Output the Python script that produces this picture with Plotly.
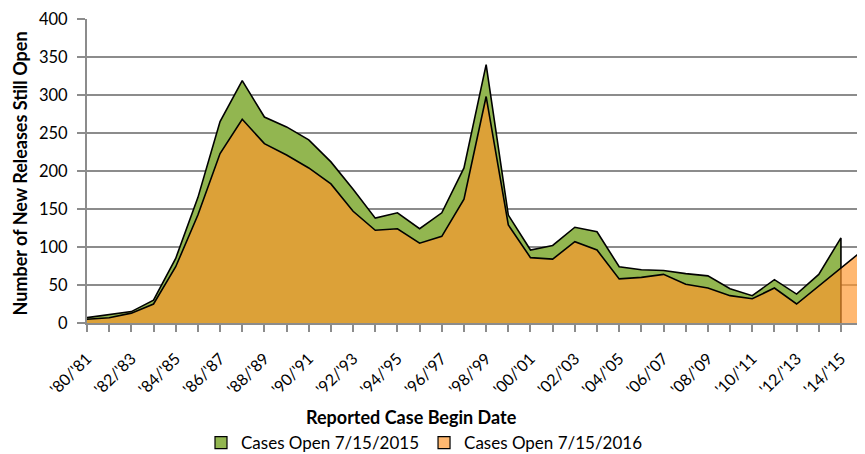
import plotly.graph_objects as go

categories = ["'80/'81", "'81/'82", "'82/'83", "'83/'84", "'84/'85", "'85/'86", "'86/'87", "'87/'88",
              "'88/'89", "'89/'90", "'90/'91", "'91/'92", "'92/'93", "'93/'94", "'94/'95", "'95/'96",
              "'96/'97", "'97/'98", "'98/'99", "'99/'00", "'00/'01", "'01/'02", "'02/'03", "'03/'04",
              "'04/'05", "'05/'06", "'06/'07", "'07/'08", "'08/'09", "'09/'10", "'10/'11", "'11/'12",
              "'12/'13", "'13/'14", "'14/'15", "'15/'16"]

open_2015 = [7, 11, 15, 30, 85, 165, 265, 319, 271, 258, 241, 212, 176, 138, 145, 124, 145, 204,
             340, 142, 96, 102, 126, 120, 74, 70, 69, 65, 62, 45, 36, 57, 38, 64, 112]

open_2016 = [5, 7, 13, 25, 74, 142, 223, 268, 236, 221, 204, 183, 147, 122, 124, 105, 114, 163,
             298, 129, 86, 84, 107, 96, 58, 60, 64, 51, 46, 36, 32, 46, 25, 49, 73, 96]

tick_labels = [c if i % 2 == 0 else "" for i, c in enumerate(categories)]
y_ticks = [0, 50, 100, 150, 200, 250, 300, 350, 400]

series_names = ["Cases Open 7/15/2015", "Cases Open 7/15/2016"]
GREEN = "rgb(146,182,80)"
ORANGE = "rgba(255,150,45,0.68)"
ORANGE_LEGEND = "rgb(255,184,112)"

FONT = "Lato, Carlito, Calibri, sans-serif"

# page body has an 8px default margin, so the figure is sized to fit the 865x454 window
W, H = 857, 446

cats_2015 = categories[:len(open_2015)]
cats_2016 = categories[:len(open_2016)]

fig = go.Figure()
fig.add_trace(go.Scatter(
    x=cats_2015 + [cats_2015[-1]], y=open_2015 + [0],
    mode="lines", fill="tozeroy", fillcolor=GREEN,
    line=dict(color="black", width=1.6),
    name=series_names[0], showlegend=False,
))
fig.add_trace(go.Scatter(
    x=cats_2016 + [cats_2016[-1]], y=open_2016 + [0],
    mode="lines", fill="tozeroy", fillcolor=ORANGE,
    line=dict(color="black", width=1.6),
    name=series_names[1], showlegend=False,
))
# legend entries (square swatches like the original)
for nm, col in zip(series_names, [GREEN, ORANGE_LEGEND]):
    fig.add_trace(go.Scatter(
        x=[None], y=[None], mode="markers", name=nm,
        marker=dict(symbol="square", size=12, color=col, line=dict(color="black", width=1.2)),
    ))

fig.update_layout(
    width=W, height=H,
    margin=dict(l=79, r=1, t=11, b=131),
    paper_bgcolor="white", plot_bgcolor="white",
    font=dict(family=FONT, size=16, color="black"),
    showlegend=True,
    legend=dict(orientation="h", xref="container", yref="container",
                x=193 / W, y=1 - 435 / H, xanchor="left", yanchor="middle",
                font=dict(size=17), itemwidth=30, traceorder="normal",
                bgcolor="rgba(0,0,0,0)"),
    xaxis=dict(type="category", range=[0, 35.04], tickmode="array",
               tickvals=categories, ticktext=tick_labels, tickangle=-45,
               showgrid=False, showline=True, linecolor="#8c8c8c", linewidth=2,
               ticks="outside", ticklen=7, tickcolor="#8c8c8c", tickwidth=1.5,
               ticklabelstandoff=11,
               tickfont=dict(size=16), zeroline=False, automargin=False),
    yaxis=dict(range=[0, 400], tickmode="array", tickvals=y_ticks,
               showgrid=True, gridcolor="#8c8c8c", gridwidth=1.5,
               showline=True, linecolor="#8c8c8c", linewidth=2,
               ticks="outside", ticklen=8, tickcolor="#8c8c8c", tickwidth=1.5,
               ticklabelstandoff=6,
               tickfont=dict(size=16.5), zeroline=False, automargin=False),
    annotations=[
        dict(text="<b>Reported Case Begin Date</b>", xref="paper", yref="paper",
             x=(403.5 - 79) / 777, y=0, yshift=-94, xanchor="center", yanchor="middle",
             showarrow=False, font=dict(size=18)),
        dict(text="<b>Number of New Releases Still Open</b>", xref="paper", yref="paper",
             x=0, xshift=-67, y=0.492, xanchor="center", yanchor="middle",
             textangle=-90, showarrow=False, font=dict(size=18)),
    ],
)

fig.write_html("out.html")
